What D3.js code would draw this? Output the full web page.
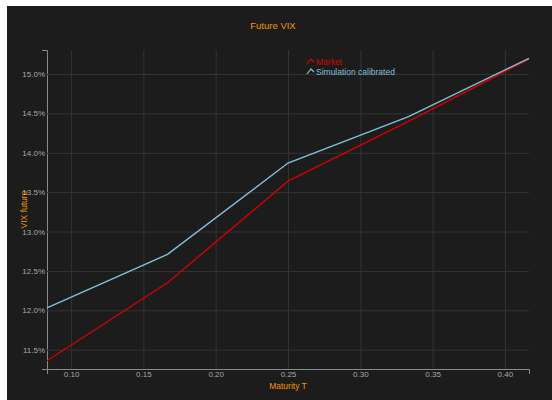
<!DOCTYPE html>
<html>
<head>
<meta charset="utf-8">
<script src="https://cdn.jsdelivr.net/npm/d3@7"></script>
<style>
    body { margin: 0; background: #fff; }
    text { font-family: "Liberation Sans", Arial, sans-serif; }
</style>
</head>
<body>
<div id="main"></div>
<script>
// maturities in years (1 to 5 months)
const maturities = [1 / 12, 2 / 12, 3 / 12, 4 / 12, 5 / 12];
const marketVix = [11.36, 12.35, 13.64, 14.40, 15.19];
const simulatedVix = [12.03, 12.71, 13.87, 14.46, 15.20];
const xTicks = [0.10, 0.15, 0.20, 0.25, 0.30, 0.35, 0.40];
const yTicks = [11.5, 12.0, 12.5, 13.0, 13.5, 14.0, 14.5, 15.0];
const seriesNames = ["Market", "Simulation calibrated"];
const seriesColors = ["#d40000", "#82c0dc"];

const ctx = {
    w: 552,
    h: 400,
    margin: {top: 50, right: 23, bottom: 31, left: 47},
};

function createChart(svg) {
    let m = ctx.margin;
    let width = ctx.w - m.left - m.right;
    let height = ctx.h - m.top - m.bottom;

    svg.append("rect")
        .attr("x", 7).attr("y", 6)
        .attr("width", ctx.w - 7).attr("height", ctx.h - 6)
        .attr("fill", "#1c1c1c");

    let g = svg.append("g").attr("transform", "translate(" + m.left + "," + m.top + ")");

    let allVals = marketVix.concat(simulatedVix);
    let pad = 0.105;
    let x = d3.scaleLinear().domain(d3.extent(maturities)).range([0, width]);
    let y = d3.scaleLinear()
        .domain([d3.min(allVals) - pad, d3.max(allVals) + pad])
        .range([height, 0]);

    let xAxis = g.append("g")
        .attr("transform", "translate(0," + height + ")")
        .call(d3.axisBottom(x).tickValues(xTicks).tickFormat(d3.format(".2f"))
            .tickSizeInner(-height).tickSizeOuter(5).tickPadding(2));
    let yAxis = g.append("g")
        .call(d3.axisLeft(y).tickValues(yTicks).tickFormat(d => d.toFixed(1) + "%")
            .tickSizeInner(-width).tickSizeOuter(5).tickPadding(2));

    [xAxis, yAxis].forEach(a => {
        a.select(".domain").attr("stroke", "#8a8a8a");
        a.selectAll(".tick line").attr("stroke", "#333333");
        a.selectAll(".tick text").attr("fill", "#a8a8a8").style("font-size", "8px");
    });

    let line = d3.line()
        .x((d, i) => x(maturities[i]))
        .y(d => y(d));

    [marketVix, simulatedVix].forEach((vals, i) => {
        g.append("path")
            .datum(vals)
            .attr("fill", "none")
            .attr("stroke", seriesColors[i])
            .attr("stroke-width", 1.4)
            .attr("d", line);
    });

    // title and axis labels
    svg.append("text")
        .attr("x", 273).attr("y", 29)
        .attr("text-anchor", "middle")
        .attr("fill", "#f0950c")
        .style("font-size", "9.5px")
        .text("Future VIX");

    svg.append("text")
        .attr("x", m.left + width / 2).attr("y", 389)
        .attr("text-anchor", "middle")
        .attr("fill", "#f0950c")
        .style("font-size", "8.5px")
        .text("Maturity T");

    svg.append("text")
        .attr("transform", "translate(27," + (m.top + height / 2) + ") rotate(-90)")
        .attr("text-anchor", "middle")
        .attr("fill", "#f0950c")
        .style("font-size", "8.5px")
        .text("VIX future");

    // legend
    let legend = svg.append("g").attr("transform", "translate(307,58)");
    seriesNames.forEach((name, i) => {
        let row = legend.append("g").attr("transform", "translate(0," + (i * 10) + ")");
        row.append("path")
            .attr("d", "M0,6L4,1L7,4")
            .attr("fill", "none")
            .attr("stroke", seriesColors[i])
            .attr("stroke-width", 1.2);
        row.append("text")
            .attr("x", 9).attr("y", 7)
            .attr("fill", seriesColors[i])
            .style("font-size", "8.5px")
            .text(name);
    });
}

let svgEl = d3.select("#main").append("svg")
    .attr("width", ctx.w)
    .attr("height", ctx.h)
    .style("display", "block");
createChart(svgEl);
</script>
</body>
</html>
